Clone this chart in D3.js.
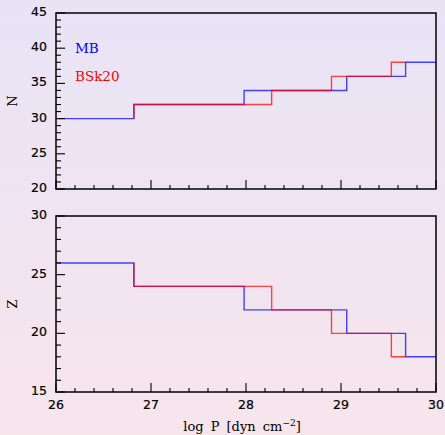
<!DOCTYPE html>
<html>
<head>
<meta charset="utf-8">
<script src="https://cdn.jsdelivr.net/npm/d3@7"></script>
<style>
  html, body { margin: 0; padding: 0; }
  body { width: 445px; height: 435px; overflow: hidden; }
</style>
</head>
<body>
<svg id="chart" width="445" height="435"></svg>
<script>
// step edges (log P) and the values held between them
const pEdgesMB = [26, 26.82, 27.98, 29.06, 29.68, 30];
const nMB = [30, 32, 34, 36, 38];
const zMB = [26, 24, 22, 20, 18];

const pEdgesBSk = [26.82, 26.82, 28.27, 28.90, 29.53, 29.68];
const nBSk = [30, 32, 34, 36, 38];
const zBSk = [26, 24, 22, 20, 18];

const xTicks = [26, 27, 28, 29, 30];
const nTicks = [20, 25, 30, 35, 40, 45];
const zTicks = [15, 20, 25, 30];

const seriesNames = ["MB", "BSk20"];
const seriesColors = ["#0000ff", "#ff0000"];

const svg = d3.select("#chart");

// background gradient
const defs = svg.append("defs");
const grad = defs.append("linearGradient")
    .attr("id", "bg").attr("x1", 0).attr("y1", 0).attr("x2", 0).attr("y2", 1);
grad.append("stop").attr("offset", "0%").attr("stop-color", "#e8e4f6");
grad.append("stop").attr("offset", "100%").attr("stop-color", "#f7e5ec");
svg.append("rect").attr("width", 445).attr("height", 435).attr("fill", "url(#bg)");

const x = d3.scaleLinear().domain([26, 30]).range([56, 436]);

function toSteps(edges, vals) {
    const pts = [];
    vals.forEach((v, i) => {
        pts.push([edges[i], v]);
        pts.push([edges[i + 1], v]);
    });
    return pts;
}

function panel(top, bottom, domain, ticks, label, mb, bsk, showXLabels) {
    const y = d3.scaleLinear().domain(domain).range([bottom, top]);
    const g = svg.append("g");

    // lines
    const line = d3.line().x(d => x(d[0])).y(d => y(d[1]));
    [[pEdgesMB, mb], [pEdgesBSk, bsk]].forEach((s, i) => {
        g.append("path")
            .attr("d", line(toSteps(s[0], s[1])))
            .attr("fill", "none")
            .attr("stroke", seriesColors[i])
            .attr("stroke-width", 1.4)
            .attr("stroke-opacity", 0.72);
    });

    // minor ticks
    const yMinor = d3.range(domain[0], domain[1] + 0.001, 1);
    g.selectAll(".ym").data(yMinor).enter().append("line")
        .attr("x1", 56).attr("x2", d => (d % 5 === 0 ? 65 : 61))
        .attr("y1", d => y(d)).attr("y2", d => y(d))
        .attr("stroke", "#000").attr("stroke-width", 1.1);
    const xMinor = d3.range(26, 30.001, 0.2);
    g.selectAll(".xm").data(xMinor).enter().append("line")
        .attr("x1", d => x(d)).attr("x2", d => x(d))
        .attr("y1", bottom)
        .attr("y2", d => (Math.abs(d - Math.round(d)) < 0.01 ? bottom - 9 : bottom - 4))
        .attr("stroke", "#000").attr("stroke-width", 1.1);

    // frame
    g.append("rect")
        .attr("x", 56).attr("y", top).attr("width", 380).attr("height", bottom - top)
        .attr("fill", "none").attr("stroke", "#000").attr("stroke-width", 1.5);

    // y tick labels
    g.selectAll(".yl").data(ticks).enter().append("text")
        .attr("x", 47).attr("y", d => y(d) + 3)
        .attr("text-anchor", "end")
        .attr("font-family", "DejaVu Sans, sans-serif")
        .attr("font-size", 12.5)
        .attr("stroke", "#000").attr("stroke-width", 0.2)
        .text(d => d);

    g.append("text")
        .attr("transform", `translate(17,${(top + bottom) / 2}) rotate(-90)`)
        .attr("text-anchor", "middle")
        .attr("font-family", "DejaVu Serif, serif")
        .attr("font-size", 13)
        .text(label);

    if (showXLabels) {
        g.selectAll(".xl").data(xTicks).enter().append("text")
            .attr("x", d => x(d)).attr("y", bottom + 17)
            .attr("text-anchor", "middle")
            .attr("font-family", "DejaVu Sans, sans-serif")
            .attr("font-size", 12.5)
            .attr("stroke", "#000").attr("stroke-width", 0.2)
            .text(d => d);
    }
    return y;
}

panel(13, 189, [20, 45], nTicks, "N", nMB, nBSk, false);
panel(216, 392, [15, 30], zTicks, "Z", zMB, zBSk, true);

// legend
seriesNames.forEach((name, i) => {
    svg.append("text")
        .attr("x", 75).attr("y", 53 + i * 28)
        .attr("fill", seriesColors[i])
        .attr("font-family", "DejaVu Serif, serif")
        .attr("font-size", 13.5)
        .text(name);
});

// x label
const xl = svg.append("text")
    .attr("x", 242).attr("y", 431)
    .attr("text-anchor", "middle")
    .attr("font-family", "DejaVu Serif, serif")
    .attr("font-size", 13)
    .attr("word-spacing", 3);
xl.append("tspan").text("log P [dyn cm");
xl.append("tspan").attr("dy", -5).attr("font-size", 9).text("−2");
xl.append("tspan").attr("dy", 5).text("]");
</script>
</body>
</html>
